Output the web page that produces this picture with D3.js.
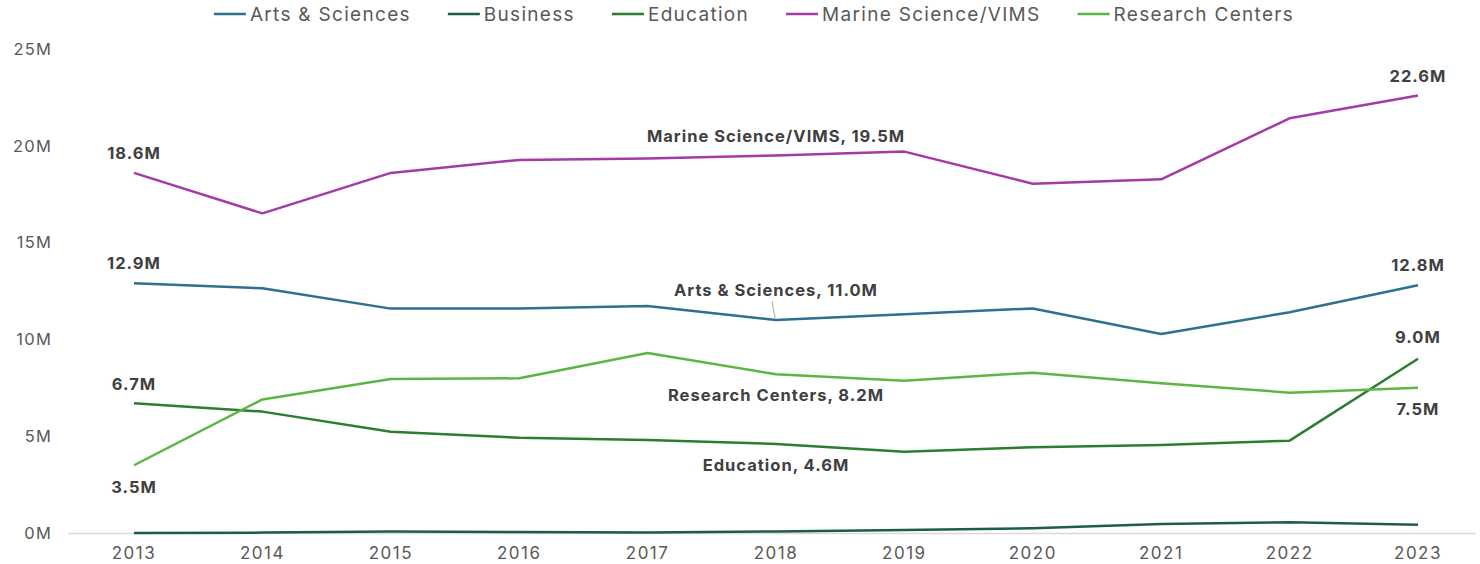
<!DOCTYPE html>
<html>
<head>
<meta charset="utf-8">
<script src="https://cdn.jsdelivr.net/npm/d3@7"></script>
<style>
  html, body { margin: 0; padding: 0; background: #fff; }
  #chart { width: 1480px; height: 564px; }
  text { font-family: Inter, "Open Sans", sans-serif; }
</style>
</head>
<body>
<div id="chart"></div>
<script>
'use strict';

const YEARS = [2013, 2014, 2015, 2016, 2017, 2018, 2019, 2020, 2021, 2022, 2023];

const ARTS_SCIENCES = [12.9, 12.64, 11.59, 11.6, 11.72, 11.0, 11.3, 11.6, 10.28, 11.4, 12.8];
const BUSINESS      = [0.0, 0.02, 0.08, 0.05, 0.02, 0.08, 0.15, 0.25, 0.47, 0.56, 0.42];
const EDUCATION     = [6.7, 6.27, 5.23, 4.92, 4.8, 4.6, 4.2, 4.43, 4.55, 4.77, 9.0];
const MARINE_VIMS   = [18.6, 16.51, 18.6, 19.27, 19.35, 19.5, 19.7, 18.04, 18.27, 21.42, 22.6];
const RESEARCH_CTRS = [3.5, 6.9, 7.95, 7.99, 9.3, 8.2, 7.87, 8.28, 7.73, 7.25, 7.5];

const Y_TICKS = [0, 5, 10, 15, 20, 25];

const SERIES = [
  { name: 'Arts & Sciences',     values: ARTS_SCIENCES, color: '#2f6f8f' },
  { name: 'Business',            values: BUSINESS,      color: '#1a5e47' },
  { name: 'Education',           values: EDUCATION,     color: '#2b7d2f' },
  { name: 'Marine Science/VIMS', values: MARINE_VIMS,   color: '#a53aa6' },
  { name: 'Research Centers',    values: RESEARCH_CTRS, color: '#5db545' },
];

// data labels: series index, year index, named label or value only, vertical offset
const LABELS = [
  { s: 3, i: 0,  named: false, dy: -20 },
  { s: 3, i: 5,  named: true,  dy: -19.5 },
  { s: 3, i: 10, named: false, dy: -19 },
  { s: 0, i: 0,  named: false, dy: -20 },
  { s: 0, i: 5,  named: true,  dy: -30, leader: true },
  { s: 0, i: 10, named: false, dy: -20 },
  { s: 2, i: 0,  named: false, dy: -19 },
  { s: 2, i: 5,  named: true,  dy: 21 },
  { s: 2, i: 10, named: false, dy: -22 },
  { s: 4, i: 0,  named: false, dy: 22 },
  { s: 4, i: 5,  named: true,  dy: 21 },
  { s: 4, i: 10, named: false, dy: 21 },
];

const W = 1480, H = 564;
const x = d3.scaleLinear().domain([2013, 2023]).range([134, 1418]);
const y = d3.scaleLinear().domain([0, 25]).range([533, 49]);

const svg = d3.select('#chart').append('svg')
  .attr('width', W).attr('height', H);

// baseline
svg.append('line')
  .attr('x1', 68).attr('x2', 1476)
  .attr('y1', y(0) + 0.5).attr('y2', y(0) + 0.5)
  .attr('stroke', '#d9d9d9').attr('stroke-width', 1.5);

// y tick labels
svg.append('g').selectAll('text')
  .data(Y_TICKS)
  .join('text')
  .attr('x', 52)
  .attr('y', d => y(d))
  .attr('dy', '0.35em')
  .attr('text-anchor', 'end')
  .attr('font-size', 16.5)
  .attr('letter-spacing', 1.2)
  .attr('fill', '#595959')
  .text(d => d + 'M');

// x tick labels
svg.append('g').selectAll('text')
  .data(YEARS)
  .join('text')
  .attr('x', d => x(d))
  .attr('y', 553)
  .attr('dy', '0.35em')
  .attr('text-anchor', 'middle')
  .attr('font-size', 17)
  .attr('letter-spacing', 1.5)
  .attr('fill', '#595959')
  .text(d => d);

// lines
const line = d3.line()
  .x((d, i) => x(YEARS[i]))
  .y(d => y(d));

svg.append('g').selectAll('path')
  .data(SERIES)
  .join('path')
  .attr('d', d => line(d.values))
  .attr('fill', 'none')
  .attr('stroke', d => d.color)
  .attr('stroke-width', 2.5)
  .attr('stroke-linejoin', 'round');

// data labels
const fmt = v => v.toFixed(1) + 'M';
LABELS.forEach(l => {
  const ser = SERIES[l.s];
  const v = ser.values[l.i];
  const px = x(YEARS[l.i]), py = y(v);
  const txt = l.named ? `${ser.name}, ${fmt(v)}` : fmt(v);
  svg.append('text')
    .attr('x', px)
    .attr('y', py + l.dy)
    .attr('dy', '0.35em')
    .attr('text-anchor', 'middle')
    .attr('font-size', 16.5)
    .attr('letter-spacing', 1)
    .attr('font-weight', 700)
    .attr('fill', '#404040')
    .text(txt);
  if (l.leader) {
    svg.append('line')
      .attr('x1', px - 4).attr('y1', py + l.dy + 11)
      .attr('x2', px - 1).attr('y2', py - 2)
      .attr('stroke', '#a6a6a6').attr('stroke-width', 1);
  }
});

// legend
const legend = svg.append('g');
let lx = 0;
SERIES.forEach(s => {
  const g = legend.append('g').attr('transform', `translate(${lx},0)`);
  g.append('line')
    .attr('x1', 0).attr('x2', 32).attr('y1', 14).attr('y2', 14)
    .attr('stroke', s.color).attr('stroke-width', 2.5);
  const t = g.append('text')
    .attr('x', 36).attr('y', 14).attr('dy', '0.35em')
    .attr('font-size', 19)
    .attr('letter-spacing', 1.3)
    .attr('fill', '#595959')
    .text(s.name);
  lx += 36 + t.node().getComputedTextLength() + 37;
});
const legendW = lx - 37;
legend.attr('transform', `translate(${(213 + 1295) / 2 - legendW / 2},0)`);
</script>
</body>
</html>
